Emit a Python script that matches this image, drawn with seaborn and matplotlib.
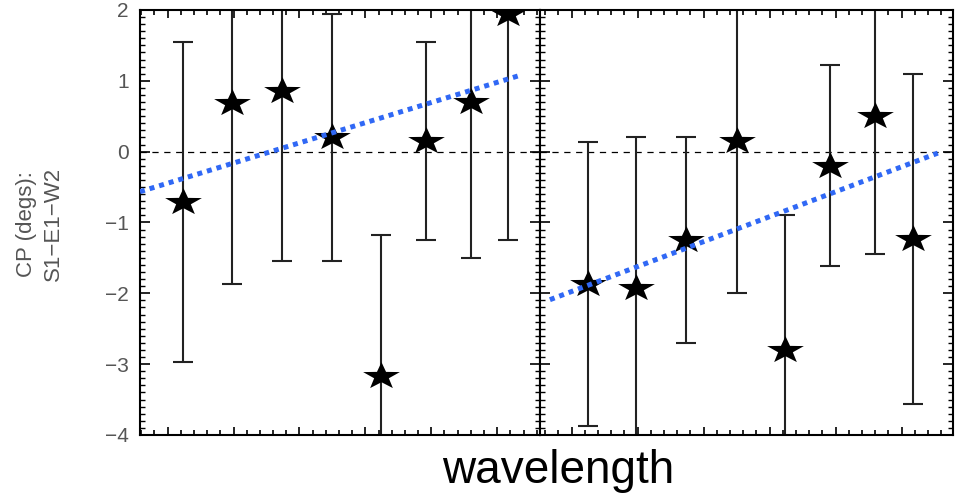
import numpy as np
import pandas as pd
import matplotlib
matplotlib.use("Agg")
import matplotlib.pyplot as plt
from matplotlib.ticker import MultipleLocator, NullFormatter, FixedLocator
from matplotlib.path import Path
import seaborn as sns

# ---- data ----
xpos = [0.24, 0.98, 1.73, 2.50, 3.23, 3.92, 4.60, 5.17]

cp_left = [-0.71, 0.68, 0.85, 0.20, -3.17, 0.15, 0.70, 1.95]
err_left = [2.26, 2.55, 2.40, 1.75, 2.00, 1.40, 2.20, 3.20]

cp_right = [-1.87, -1.93, -1.25, 0.15, -2.80, -0.20, 0.50, -1.23]
err_right = [2.00, 2.13, 1.45, 2.15, 1.90, 1.42, 1.95, 2.33]

fit_left_x = [-0.42, 5.32]
fit_left_y = [-0.565, 1.07]
fit_right_x = [-0.33, 5.55]
fit_right_y = [-2.09, -0.02]

yticks = [-4, -3, -2, -1, 0, 1, 2]
ylabel = "CP (degs):\nS1\u2212E1\u2212W2"
xlabel = "wavelength"

sns.set_theme(style="white")
plt.rcParams["font.family"] = ["Liberation Sans", "DejaVu Sans"]

W, H = 961, 497
fig = plt.figure(figsize=(W / 100, H / 100), dpi=100)

def frac(x0, y0, x1, y1):
    return [x0 / W, 1 - y1 / H, (x1 - x0) / W, (y1 - y0) / H]

axL = fig.add_axes(frac(140, 10, 540, 435))
axR = fig.add_axes(frac(540, 10, 953, 435))

blue = "#3068f5"

# slightly flattened five-point star marker
_star = Path.unit_regular_star(5, 0.40)
star_marker = Path(_star.vertices * np.array([1.35, 1.0]), _star.codes)

panels = [
    (axL, cp_left, err_left, fit_left_x, fit_left_y, (-0.42, 5.65)),
    (axR, cp_right, err_right, fit_right_x, fit_right_y, (-0.48, 5.78)),
]

for ax, cp, err, fx, fy, xl in panels:
    df = pd.DataFrame({"x": xpos, "cp": cp, "err": err})
    ax.axhline(0, color="black", lw=0.9, ls=(0, (5, 4.5)), zorder=1)
    ax.errorbar(df["x"], df["cp"], yerr=df["err"], fmt="none",
                ecolor="#222222", elinewidth=1.5, capsize=7.5, capthick=1.5,
                zorder=2)
    sns.scatterplot(data=df, x="x", y="cp", ax=ax, marker=star_marker, s=700,
                    color="black", edgecolor="black", linewidth=0, zorder=4,
                    legend=False)
    fdf = pd.DataFrame({"x": fx, "y": fy})
    sns.lineplot(data=fdf, x="x", y="y", ax=ax, color=blue, lw=3.6,
                 linestyle=(0, (1, 1)), zorder=5, legend=False)
    ax.set_xlabel("")
    ax.set_ylabel("")
    ax.xaxis.set_major_locator(MultipleLocator(1))
    ax.xaxis.set_minor_locator(MultipleLocator(0.2))
    ax.xaxis.set_major_formatter(NullFormatter())
    ax.xaxis.set_minor_formatter(NullFormatter())
    ax.yaxis.set_major_locator(FixedLocator(yticks))
    ax.yaxis.set_minor_locator(MultipleLocator(0.1))
    ax.yaxis.set_minor_formatter(NullFormatter())
    ax.set_xlim(*xl)
    ax.set_ylim(-4, 2)
    ax.tick_params(axis="both", which="both", direction="in",
                   top=True, bottom=True, left=True, right=True,
                   color="black", width=1.2)
    ax.tick_params(axis="x", which="major", length=6)
    ax.tick_params(axis="x", which="minor", length=3.5)
    ax.tick_params(axis="y", which="major", length=7)
    ax.tick_params(axis="y", which="minor", length=3.5, width=1.0)
    for sp in ax.spines.values():
        sp.set_visible(True)
        sp.set_color("black")
        sp.set_linewidth(1.5)

axL.set_yticklabels([f"\u2212{abs(t)}" if t < 0 else f"{t}" for t in yticks])
axL.tick_params(axis="y", which="major", labelsize=15, labelcolor="#555555", pad=8)
axR.tick_params(axis="y", which="both", labelleft=False)

fig.text(40 / W, 1 - 224 / H, ylabel, rotation=90, ha="center", va="center",
         fontsize=16, color="#555555", linespacing=1.35)
fig.text(558 / W, 1 - 483 / H, xlabel, ha="center", va="baseline",
         fontsize=33, color="black")

fig.savefig("out.png", dpi=100)
